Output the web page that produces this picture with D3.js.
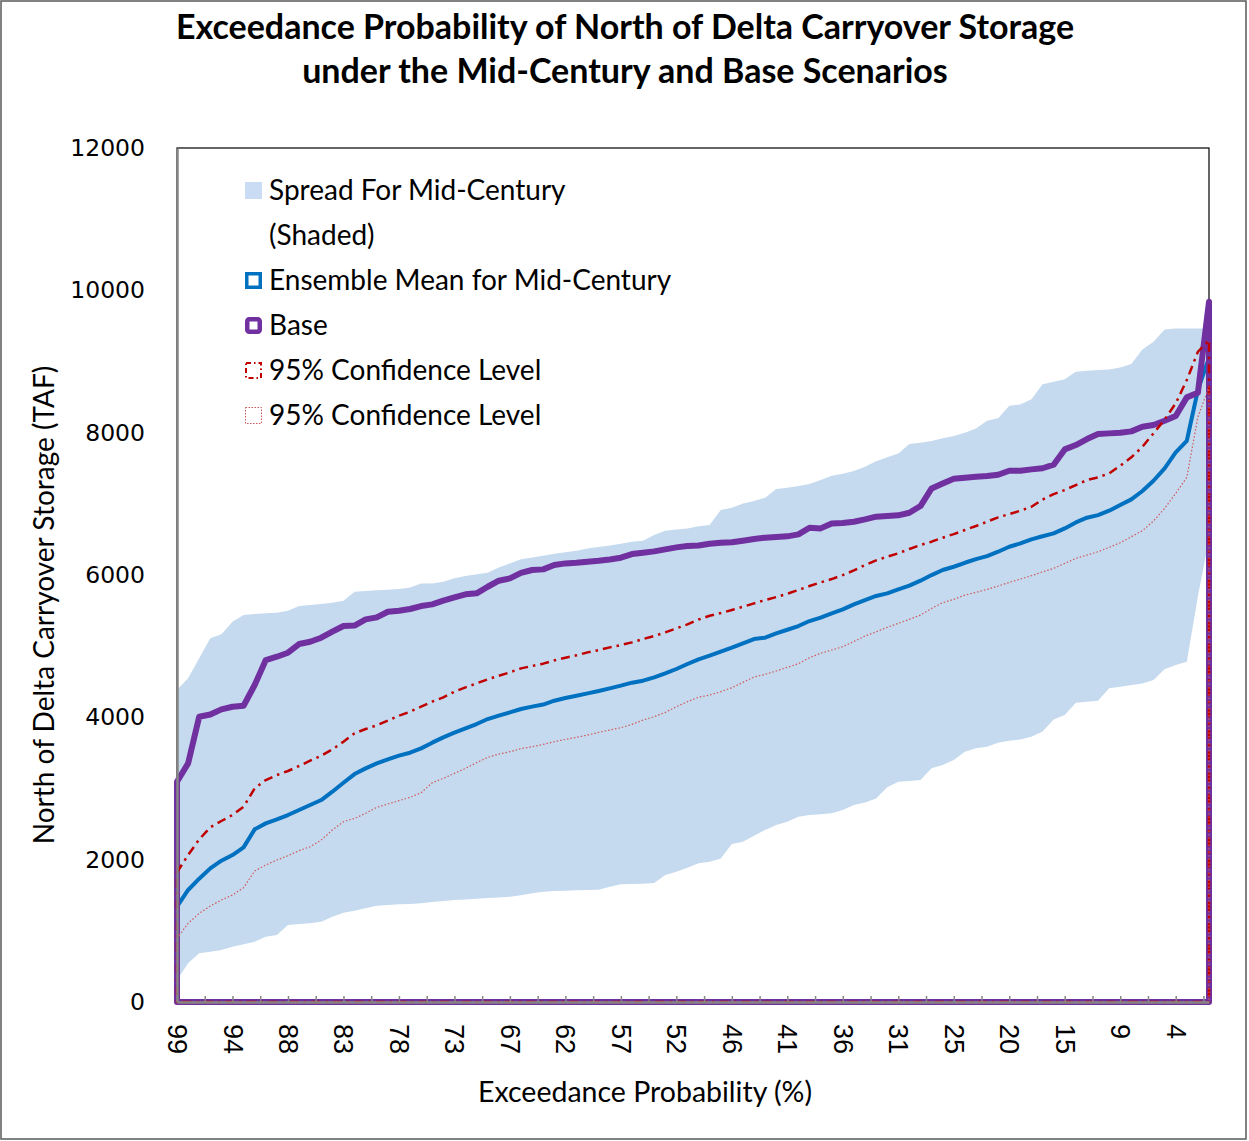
<!DOCTYPE html>
<html>
<head>
<meta charset="utf-8">
<script src="https://cdnjs.cloudflare.com/ajax/libs/d3/7.8.5/d3.min.js"></script>
<style>
  body { margin: 0; background: #fff; }
  svg text { fill: #000; }
</style>
</head>
<body>
<div id="chart"></div>
<script>
// exceedance probability labels, one every 5th sorted year
var probLabels = ["99","94","88","83","78","73","67","62","57","52","46","41","36","31","25","20","15","9","4"];

// Base (TAF)
var base = [3095,3353,4009,4040,4112,4149,4163,4454,4805,4852,4908,5030,5062,5119,5203,5283,5290,5376,5405,5484,
  5498,5522,5564,5587,5639,5686,5728,5742,5835,5920,5953,6030,6070,6079,6140,6163,6172,6187,6201,6219,
  6243,6294,6313,6332,6360,6388,6407,6415,6440,6454,6459,6482,6505,6524,6533,6543,6571,6664,6655,6725,
  6730,6749,6781,6820,6830,6838,6875,6969,7217,7287,7353,7367,7381,7390,7409,7465,7465,7484,7500,7550,
  7765,7826,7910,7980,7990,7999,8018,8083,8107,8167,8233,8496,8561,9839];

// Ensemble mean for mid-century
var ensMean = [1340,1574,1733,1878,1986,2065,2173,2426,2510,2566,2627,2698,2768,2838,2955,3081,3203,3283,3353,3409,
  3461,3503,3564,3644,3719,3784,3845,3906,3976,4023,4070,4117,4150,4180,4234,4271,4304,4337,4370,4407,
  4445,4487,4515,4562,4618,4679,4749,4815,4866,4922,4978,5039,5100,5119,5180,5231,5283,5353,5400,5461,
  5517,5587,5648,5705,5742,5798,5850,5920,5999,6070,6116,6172,6224,6266,6327,6397,6444,6501,6545,6585,
  6655,6739,6805,6842,6903,6983,7063,7180,7324,7498,7723,7886,8600,9050];

// 95% confidence, upper
var ciUpper = [1822,2065,2285,2454,2543,2627,2744,3002,3119,3189,3246,3316,3391,3461,3550,3658,3775,3836,3887,3953,
  4023,4079,4149,4220,4281,4360,4421,4477,4534,4585,4632,4688,4721,4754,4800,4838,4871,4913,4946,4983,
  5016,5053,5100,5142,5194,5250,5306,5374,5428,5465,5508,5554,5601,5648,5690,5737,5789,5845,5896,5943,
  5999,6065,6140,6205,6257,6304,6365,6421,6468,6524,6575,6632,6688,6749,6810,6856,6903,6959,7060,7137,
  7194,7264,7334,7372,7428,7536,7653,7802,7990,8186,8411,8739,9137,9301];

// 95% confidence, lower
var ciLower = [894,1105,1246,1349,1433,1503,1606,1841,1925,1995,2056,2126,2182,2276,2417,2534,2580,2651,2735,2782,
  2829,2876,2941,3081,3142,3213,3283,3363,3437,3484,3517,3560,3587,3620,3657,3690,3719,3751,3789,3822,
  3854,3901,3962,4009,4070,4149,4220,4283,4313,4360,4416,4491,4566,4604,4651,4702,4754,4838,4899,4946,
  4992,5067,5142,5201,5264,5320,5377,5437,5531,5611,5658,5718,5756,5798,5845,5896,5943,5990,6044,6093,
  6163,6233,6280,6327,6388,6454,6538,6622,6758,6936,7147,7372,8220,8645];

// spread of the mid-century ensemble
var spreadMax = [4384,4548,4829,5110,5166,5344,5437,5451,5461,5470,5498,5564,5578,5592,5610,5639,5765,5775,5784,5793,
  5803,5826,5882,5882,5906,5953,5985,6009,6032,6107,6163,6220,6247,6271,6299,6318,6341,6374,6393,6416,
  6440,6468,6482,6561,6622,6641,6655,6685,6702,6913,6945,7006,7039,7086,7208,7226,7250,7278,7334,7395,
  7423,7461,7521,7600,7653,7709,7840,7858,7882,7920,7952,7999,8060,8167,8201,8378,8397,8468,8680,8716,
  8749,8856,8870,8880,8889,8917,8964,9170,9277,9451,9465,9465,9465,9465];
var spreadMin = [309,543,684,707,731,777,810,848,918,941,1082,1096,1105,1129,1199,1255,1283,1316,1353,1363,
  1372,1377,1386,1405,1419,1433,1442,1452,1461,1470,1480,1500,1527,1550,1560,1564,1569,1574,1578,1620,
  1654,1658,1663,1672,1784,1831,1887,1948,1972,2018,2220,2253,2337,2417,2487,2534,2604,2627,2637,2651,
  2698,2768,2805,2860,3016,3096,3105,3119,3283,3330,3400,3517,3564,3587,3644,3672,3690,3728,3800,3971,
  4032,4206,4220,4234,4407,4431,4454,4477,4524,4674,4735,4782,5700,6500];

var yTicks = [0,2000,4000,6000,8000,10000,12000];

var W = 1249, H = 1141;
var margin = {top: 148, right: 40, bottom: 139, left: 177};
var n = base.length;

var svg = d3.select("#chart").append("svg")
    .attr("width", W).attr("height", H);

// outer frame
svg.append("rect")
    .attr("x", 1).attr("y", 1).attr("width", W - 4).attr("height", H - 3)
    .attr("fill", "#fff").attr("stroke", "#595959").attr("stroke-width", 1.5);

var x = d3.scaleLinear().domain([0, n - 1]).range([margin.left, W - margin.right]);
var y = d3.scaleLinear().domain([0, 12000]).range([H - margin.bottom, margin.top]);

// plot area border
svg.append("rect")
    .attr("x", x(0)).attr("y", y(12000))
    .attr("width", x(n - 1) - x(0)).attr("height", y(0) - y(12000))
    .attr("fill", "none").attr("stroke", "#000").attr("stroke-width", 1.2);

// shaded spread
var area = d3.area()
    .x(function(d, i) { return x(i); })
    .y0(function(d, i) { return y(spreadMin[i]); })
    .y1(function(d) { return y(d); });

svg.append("path")
    .datum(spreadMax)
    .attr("d", area)
    .attr("fill", "#c5daee");

// series are drawn as closed loops that return along the zero line (as in the source sheet)
function loop(vals) {
  var pts = vals.map(function(v, i) { return [i, v]; });
  pts.push([n - 1, 0]);
  pts.push([0, 0]);
  return pts;
}
var line = d3.line()
    .x(function(d) { return x(d[0]); })
    .y(function(d) { return y(d[1]); })
    .curve(d3.curveLinearClosed);

var series = [
  {vals: ensMean, color: "#0070c0", width: 4, dash: null},
  {vals: base, color: "#7030a0", width: 6, dash: null},
  {vals: ciUpper, color: "#c00000", width: 2.5, dash: "9,5,2.5,5"},
  {vals: ciLower, color: "#d0575a", width: 1.2, dash: "1.5,2"}
];

series.forEach(function(s) {
  svg.append("path")
      .attr("d", line(loop(s.vals)))
      .attr("fill", "none")
      .attr("stroke", s.color)
      .attr("stroke-width", s.width)
      .attr("stroke-linejoin", "round")
      .attr("stroke-dasharray", s.dash);
});

// y axis
var yAxis = svg.append("g")
    .attr("transform", "translate(" + x(0) + ",0)")
    .call(d3.axisLeft(y).tickValues(yTicks).tickSize(0).tickPadding(32).tickFormat(d3.format("d")));
yAxis.select(".domain").attr("stroke", "#868686").attr("stroke-width", 2.5);
yAxis.selectAll("text")
    .attr("font-family", "DejaVu Sans").attr("font-size", 23.5);

// x axis: small tick marks every 2.5 points, labels every 5
var xAxis = svg.append("g")
    .attr("transform", "translate(0," + y(0) + ")")
    .call(d3.axisBottom(x).tickValues(d3.range(0, n - 1, 2.5)).tickSizeInner(-6).tickSizeOuter(0).tickFormat(""));
xAxis.select(".domain").attr("stroke", "#868686").attr("stroke-width", 2.5);
xAxis.selectAll(".tick line").attr("stroke", "#868686").attr("stroke-width", 1.5);

var labelAxis = svg.append("g")
    .attr("transform", "translate(0," + y(0) + ")")
    .call(d3.axisBottom(x).tickValues(d3.range(0, n, 5)).tickSize(0)
      .tickFormat(function(d, i) { return probLabels[i]; }));
labelAxis.select(".domain").remove();
labelAxis.selectAll("text")
    .attr("font-family", "Liberation Sans").attr("font-size", 27)
    .attr("transform", "rotate(90)")
    .attr("x", 22).attr("y", 0).attr("dy", "0.35em")
    .style("text-anchor", "start");

// titles
svg.append("text")
    .attr("x", 625).attr("y", 39)
    .attr("text-anchor", "middle")
    .attr("font-family", "Lato").attr("font-weight", "bold").attr("font-size", 34)
    .text("Exceedance Probability of North of Delta Carryover Storage");
svg.append("text")
    .attr("x", 625).attr("y", 83)
    .attr("text-anchor", "middle")
    .attr("font-family", "Lato").attr("font-weight", "bold").attr("font-size", 34)
    .text("under the Mid-Century and Base Scenarios");

svg.append("text")
    .attr("transform", "translate(54,605) rotate(-90)")
    .attr("text-anchor", "middle")
    .attr("font-family", "Lato").attr("font-size", 28)
    .text("North of Delta Carryover Storage (TAF)");

svg.append("text")
    .attr("x", 645).attr("y", 1102)
    .attr("text-anchor", "middle")
    .attr("font-family", "Lato").attr("font-size", 28.5)
    .text("Exceedance Probability (%)");

// legend
var legend = [
  {label: ["Spread For Mid-Century", "(Shaded)"], type: "fill"},
  {label: ["Ensemble Mean for Mid-Century"], type: "line", color: "#0070c0", width: 3.5},
  {label: ["Base"], type: "line", color: "#7030a0", width: 4.5},
  {label: ["95% Confidence Level"], type: "line", color: "#c00000", width: 2, dash: "5,3,1.5,3"},
  {label: ["95% Confidence Level"], type: "line", color: "#d0575a", width: 1, dash: "1.5,1.5"}
];

var ly = 190;
legend.forEach(function(l) {
  var g = svg.append("g").attr("transform", "translate(245," + ly + ")");
  if (l.type == "fill") {
    g.append("rect").attr("x", 0).attr("y", -8).attr("width", 17).attr("height", 17)
        .attr("fill", "#c9dcf3");
  } else {
    g.append("rect").attr("x", l.width / 2).attr("y", -8 + l.width / 2)
        .attr("width", 17 - l.width).attr("height", 17 - l.width)
        .attr("fill", "#fff").attr("stroke", l.color).attr("stroke-width", l.width)
        .attr("stroke-dasharray", l.dash || null)
        .attr("rx", l.width > 4 ? 2 : 0);
  }
  l.label.forEach(function(t, k) {
    g.append("text")
        .attr("x", 24).attr("y", 10 + k * 45)
        .attr("font-family", "Lato").attr("font-size", 28)
        .text(t);
  });
  ly += 45 * l.label.length;
});
</script>
</body>
</html>
